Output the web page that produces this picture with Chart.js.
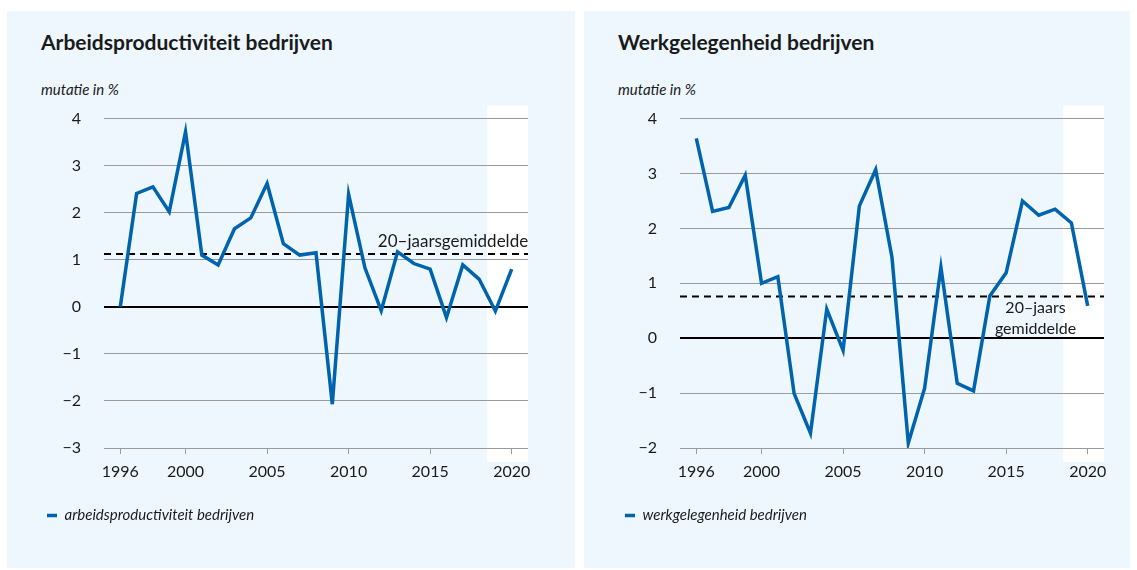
<!DOCTYPE html>
<html>
<head>
<meta charset="utf-8">
<title>Arbeidsproductiviteit en werkgelegenheid bedrijven</title>
<script src="https://cdn.jsdelivr.net/npm/chart.js@4/dist/chart.umd.min.js"></script>
<style>
  body { margin: 0; background: #fff; font-family: Lato, sans-serif; color: #1a1a1a; }
  .panel { position: absolute; top: 11px; height: 557px; background: #edf7fd; }
  #p1 { left: 7px; width: 568px; }
  #p2 { left: 584px; width: 546px; }
  .title { position: absolute; left: 34px; top: 19px; font-size: 21px; line-height: 24px; font-weight: bold; white-space: nowrap; }
  .unit { position: absolute; left: 34px; top: 69px; font-size: 15px; line-height: 18px; font-style: italic; white-space: nowrap; }
  .panel canvas { position: absolute; left: 0; top: 75px; }
</style>
</head>
<body>
<div class="panel" id="p1">
  <div class="title">Arbeidsproductiviteit bedrijven</div>
  <div class="unit">mutatie in %</div>
  <canvas id="chart1" width="568" height="482"></canvas>
</div>
<div class="panel" id="p2">
  <div class="title">Werkgelegenheid bedrijven</div>
  <div class="unit">mutatie in %</div>
  <canvas id="chart2" width="546" height="482"></canvas>
</div>
<script>
const years = [1996, 1997, 1998, 1999, 2000, 2001, 2002, 2003, 2004, 2005, 2006, 2007, 2008,
  2009, 2010, 2011, 2012, 2013, 2014, 2015, 2016, 2017, 2018, 2019, 2020];
const productivity = [0.0, 2.41, 2.55, 2.02, 3.72, 1.10, 0.89, 1.66, 1.89, 2.62, 1.34, 1.10, 1.15,
  -2.07, 2.39, 0.83, -0.08, 1.17, 0.92, 0.80, -0.23, 0.89, 0.59, -0.09, 0.80];
const employment = [3.64, 2.31, 2.38, 2.97, 1.00, 1.12, -1.01, -1.73, 0.53, -0.22, 2.41, 3.07, 1.47,
  -1.91, -0.91, 1.29, -0.82, -0.96, 0.77, 1.19, 2.50, 2.24, 2.35, 2.10, 0.59];
const productivityAvg = 1.12;
const employmentAvg = 0.76;
const yearTicks = [1996, 2000, 2005, 2010, 2015, 2020];
const projectionFrom = 2018.5;

const blue = '#0063ad';
const textColor = '#1a1a1a';
const gridColor = '#9a9a9a';

Chart.defaults.font.family = 'Lato, sans-serif';
Chart.defaults.color = textColor;

// white band behind the forecast years
const projectionBand = {
  id: 'projectionBand',
  beforeDraw(chart, args, opts) {
    const { ctx, chartArea, scales } = chart;
    const left = scales.x.getPixelForValue(opts.from);
    ctx.save();
    ctx.fillStyle = '#ffffff';
    ctx.fillRect(left, chartArea.top - 13, chartArea.right - left, chartArea.bottom - chartArea.top + 27);
    ctx.restore();
  }
};

// text next to the 20-year average line
const avgLabel = {
  id: 'avgLabel',
  afterDatasetsDraw(chart, args, opts) {
    const { ctx, scales } = chart;
    const y0 = scales.y.getPixelForValue(opts.value);
    ctx.save();
    ctx.font = opts.size + 'px Lato, sans-serif';
    ctx.fillStyle = textColor;
    ctx.textAlign = 'center';
    ctx.textBaseline = 'middle';
    opts.lines.forEach(l => {
      ctx.fillText(l.text, scales.x.getPixelForValue(opts.x), y0 + l.dy);
    });
    ctx.restore();
  }
};

function makeChart(id, o) {
  return new Chart(document.getElementById(id), {
    type: 'line',
    data: {
      datasets: [
        {
          label: o.label,
          data: years.map((yr, i) => ({ x: yr, y: o.values[i] })),
          borderColor: blue,
          backgroundColor: blue,
          borderWidth: 3.5,
          pointRadius: 0,
          tension: 0
        },
        {
          label: '20-jaarsgemiddelde',
          data: [{ x: 1995, y: o.avg }, { x: 2021, y: o.avg }],
          borderColor: '#000',
          borderWidth: 2,
          borderDash: [7, 5],
          pointRadius: 0
        }
      ]
    },
    options: {
      responsive: false,
      animation: false,
      // top space comes from the y tick padding (23 + half a label)
      layout: { padding: { left: o.padLeft, right: o.padRight, top: 0, bottom: 35 } },
      scales: {
        x: {
          type: 'linear',
          min: 1995,
          max: 2021,
          afterBuildTicks: axis => { axis.ticks = yearTicks.map(v => ({ value: v })); },
          afterFit: axis => { axis.height = 50; },
          grid: { drawOnChartArea: false, drawTicks: true, tickLength: 6, color: gridColor },
          border: { display: false },
          ticks: { padding: 8, font: { size: 16 }, color: textColor, callback: v => String(v) }
        },
        y: {
          min: o.min,
          max: 4,
          afterFit: axis => { axis.width = o.axisWidth; },
          grid: {
            drawTicks: false,
            color: c => c.tick.value === 0 ? '#000' : gridColor,
            lineWidth: c => c.tick.value === 0 ? 2 : 1
          },
          border: { display: false },
          ticks: {
            stepSize: 1,
            padding: 23,
            font: { size: 16 },
            color: textColor,
            callback: v => v < 0 ? '\u2212' + Math.abs(v) : String(v)
          }
        }
      },
      plugins: {
        legend: {
          position: 'bottom',
          align: 'start',
          labels: {
            filter: item => item.datasetIndex === 0,
            usePointStyle: true,
            pointStyle: 'line',
            pointStyleWidth: 10,
            padding: 10,
            font: { size: 15, style: 'italic' },
            color: textColor
          }
        },
        tooltip: { enabled: false },
        projectionBand: { from: projectionFrom },
        avgLabel: { value: o.avg, x: o.labelX, size: o.labelSize, lines: o.labelLines }
      }
    },
    plugins: [projectionBand, avgLabel]
  });
}

makeChart('chart1', {
  label: 'arbeidsproductiviteit bedrijven',
  values: productivity,
  avg: productivityAvg,
  min: -3,
  padLeft: 30,
  padRight: 47,
  axisWidth: 67,
  labelX: 2016.4,
  labelSize: 17,
  labelLines: [{ text: '20\u2013jaarsgemiddelde', dy: -13 }]
});

makeChart('chart2', {
  label: 'werkgelegenheid bedrijven',
  values: employment,
  avg: employmentAvg,
  min: -2,
  padLeft: 31,
  padRight: 26,
  axisWidth: 65,
  labelX: 2016.8,
  labelSize: 16,
  labelLines: [{ text: '20\u2013jaars', dy: 11 }, { text: 'gemiddelde', dy: 32 }]
});
</script>
</body>
</html>
